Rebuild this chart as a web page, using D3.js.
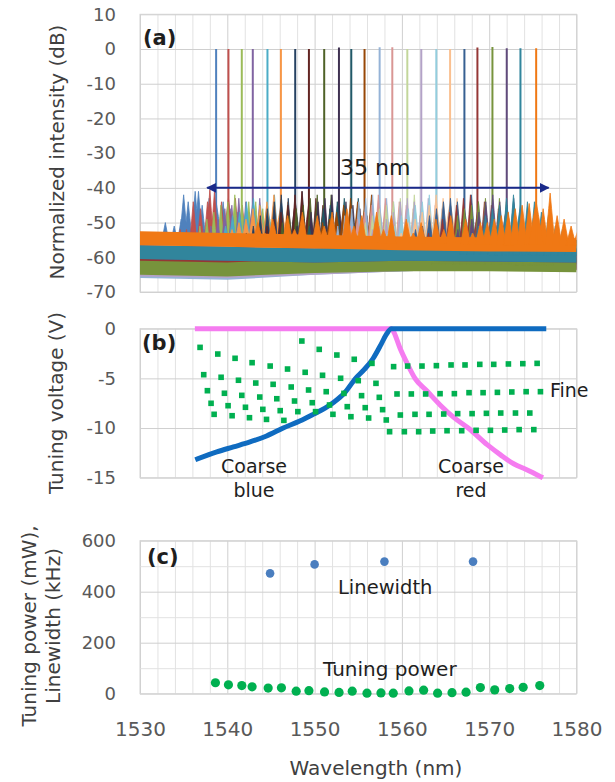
<!DOCTYPE html>
<html><head><meta charset="utf-8">
<script src="https://cdn.jsdelivr.net/npm/d3@7/dist/d3.min.js"></script>
<style>
body{margin:0;background:#fff}
svg text{font-family:"DejaVu Sans",Verdana,sans-serif}
</style>
</head><body>
<svg id="chart" width="615" height="782"></svg>
<script>
// ---------------- DATA ----------------
// (a) spectra: 24 lasing channels
const channelWl = [1538.72,1540.13,1541.66,1542.92,1544.60,1546.14,1547.78,1549.35,1551.10,1552.79,1554.20,1555.72,
                   1557.45,1558.90,1560.62,1562.22,1563.94,1565.52,1567.16,1568.65,1570.37,1572.01,1573.58,1575.38];
const peakDb = [0,0,0,0,0,0,0,0,0,0.4,0,0,0.5,0.5,0,0,0,0,0,0.4,0.6,0.2,0.2,0.2];
const pedestalDb = [-44,-43,-45,-44,-45,-45,-44,-44,-45,-45,-46,-46,-45,-46,-46,-46,-45,-44,-46,-47,-46,-45,-45,-44];
const seriesColors = ["#4F81BD","#C0504D","#9BBB59","#8064A2","#4BACC6","#F79646",
                      "#254061","#632523","#4F6228","#3F3151","#215968","#984807",
                      "#95B3D7","#D99694","#C3D69B","#B3A2C7","#93CDDD","#FAC090",
                      "#376092","#953735","#77933C","#604A7B","#31859C","#F07814"];
const floorWl = [1530,1540,1550,1560,1570,1580];
const floorDb = [
 [-57,-58,-59,-59.5,-59.5,-59.5],
 [-60,-60.5,-61,-61,-61,-61.5],
 [-63,-63,-62,-61.5,-61.5,-62],
 [-61,-61.5,-61,-60.5,-60.5,-61],
 [-58,-58.5,-59,-59,-59,-59.5],
 [-56,-56.5,-57,-57,-57,-57.5],
 [-62,-62,-61,-60.5,-60.5,-61],
 [-61,-61.5,-61,-61,-61,-61.5],
 [-64,-63.5,-62.5,-62,-61.5,-61.5],
 [-63,-63,-62,-61.5,-61.5,-61.5],
 [-59,-59.5,-59.5,-59.5,-59.5,-60],
 [-57.5,-58,-58,-58,-58,-58.5],
 [-64,-64.5,-63,-62,-61.5,-61.5],
 [-60,-60.5,-61,-61,-61,-61.5],
 [-62,-62.5,-62,-61.5,-61.5,-61.5],
 [-63.5,-64,-63,-62,-61.5,-61.5],
 [-58.5,-59,-59,-59,-59,-59.5],
 [-56.5,-57,-57.5,-57.5,-57.5,-58],
 [-59.5,-60,-60,-59.5,-59.5,-60],
 [-60.5,-61.5,-61.5,-61,-61,-61.5],
 [-63,-63.5,-62.5,-62,-62,-62.3],
 [-58.5,-59,-59.5,-59,-59.2,-59.5],
 [-58.5,-59,-59.5,-59,-59.2,-59.5],
 [-54.5,-55,-55.5,-56,-56.3,-56.5]
];
// side-mode comb of every channel: offsets from the lasing line (nm) and levels (dB)
const combOffsetNm = [-6.4,-5.6,-4.8,-4.0,-3.2,-2.4,-1.6,-0.8,0.8,1.6,2.4,3.2,4.0,4.8,5.6,6.4];
const combDb = [
 [-55,-53,-51,-49,-44,-41,-45,-43,-44,-46,-47,-49,-50,-52,-53,-54],
 [-54,-53,-52,-48,-46,-44,-41,-44,-43,-45,-47,-48,-51,-52,-54,-55],
 [-55,-53,-51,-49,-47,-45,-44,-42,-44,-44,-46,-49,-50,-52,-53,-55],
 [-54,-52,-51,-49,-46,-45,-43,-44,-43,-45,-47,-48,-50,-51,-53,-54],
 [-55,-53,-51,-48,-47,-44,-43,-45,-42,-44,-46,-48,-50,-52,-53,-55],
 [-54,-52,-50,-49,-46,-45,-44,-42,-44,-45,-47,-48,-50,-51,-53,-54],
 [-55,-53,-51,-48,-46,-44,-42,-43,-41,-44,-46,-48,-50,-52,-53,-55],
 [-54,-52,-51,-49,-47,-45,-42,-41,-43,-45,-46,-49,-50,-52,-54,-55],
 [-55,-53,-50,-48,-46,-45,-43,-42,-42,-44,-47,-48,-50,-51,-53,-54],
 [-54,-52,-51,-49,-47,-44,-43,-42,-44,-45,-46,-48,-51,-52,-53,-55],
 [-55,-53,-51,-48,-46,-45,-44,-43,-43,-44,-47,-49,-50,-52,-54,-55],
 [-54,-53,-50,-49,-47,-45,-43,-44,-42,-45,-46,-48,-50,-51,-53,-54],
 [-55,-52,-51,-48,-46,-44,-43,-42,-43,-44,-47,-49,-50,-52,-53,-55],
 [-54,-53,-51,-49,-47,-45,-42,-43,-44,-45,-46,-48,-51,-52,-54,-55],
 [-55,-53,-50,-48,-46,-45,-44,-43,-42,-44,-47,-49,-50,-51,-53,-54],
 [-54,-52,-51,-49,-47,-44,-43,-44,-43,-45,-46,-48,-50,-52,-53,-55],
 [-55,-53,-51,-48,-46,-45,-44,-42,-44,-44,-47,-48,-51,-52,-54,-55],
 [-54,-53,-50,-49,-47,-45,-42,-43,-43,-45,-46,-49,-50,-51,-53,-54],
 [-55,-52,-51,-48,-46,-44,-43,-44,-42,-44,-47,-48,-50,-52,-53,-55],
 [-54,-53,-51,-49,-47,-45,-43,-42,-44,-45,-46,-48,-51,-52,-54,-55],
 [-55,-53,-50,-48,-46,-45,-44,-43,-43,-44,-47,-49,-50,-51,-53,-54],
 [-54,-52,-51,-49,-47,-44,-42,-44,-43,-45,-46,-48,-50,-52,-53,-55],
 [-55,-53,-51,-48,-46,-45,-43,-42,-44,-44,-47,-48,-51,-52,-54,-55],
 [-51,-50,-49,-48,-47,-46,-45,-44.5,-46,-41.5,-48,-49,-51,-52,-53,-54]
];
// additional distinct side peaks [wavelength nm, dB]
const extraPeaks = [
 [[1532.9,-50],[1534.0,-53],[1535.0,-42],[1536.7,-41]],
 [[1534.6,-52],[1536.1,-44],[1538.0,-40.5]],
 [],[],[],[],[],[],[],[],[],[],[],[],[],[],[],[],[],[],[],[],[],
 [[1543.5,-50],[1544.3,-53],[1545.2,-49],[1546.9,-48],[1547.7,-52],[1548.6,-47],[1550.3,-48],[1551.1,-51],[1552.0,-47],
  [1553.7,-46],[1554.5,-51],[1555.4,-48],[1557.1,-47],[1557.9,-52],[1558.8,-48],[1560.5,-49],[1561.3,-53],[1562.2,-50],
  [1563.9,-49],[1564.8,-52],[1565.6,-48],[1567.3,-49],[1568.1,-53],[1569.0,-50]]
];
const arrowWl = [1537.7, 1576.8];
const arrowDb = -40;

// (b) tuning voltages
const coarseBlueWl = [1536.6,1538.8,1540.7,1542.6,1544.5,1546.4,1548.3,1549.9,1551.2,1552.2,1553.4,1554.7,1555.7,1556.7,1557.6,1558.2,1558.8,1576.25];
const coarseBlueV  = [-13.1,-12.4,-11.9,-11.4,-10.8,-10.0,-9.3,-8.6,-8.0,-7.4,-6.5,-5.0,-4.1,-3.0,-1.6,-0.6,0,0];
const coarseRedWl = [1536.57,1558.8,1559.05,1559.8,1560.6,1561.5,1562.9,1564.4,1565.9,1567.6,1569.8,1571.3,1572.8,1574.3,1575.9];
const coarseRedV  = [0,0,-0.3,-2.0,-3.5,-5.0,-6.3,-7.7,-8.9,-10.0,-11.7,-12.7,-13.6,-14.2,-14.9];
const fineWl = [
 1536.88,1537.30,1537.72,1538.14,1538.49,
 1538.91,1539.29,1539.67,1540.09,1540.55,
 1540.89,1541.28,1541.66,1542.08,1542.54,
 1542.84,1543.26,1543.72,1544.07,1544.49,
 1544.91,1545.25,1545.67,1546.06,1546.48,
 1546.90,1547.32,1547.70,1548.08,
 1548.54,1548.92,1549.31,1549.73,1550.11,
 1550.53,1550.91,1551.33,1551.71,1552.10,
 1552.55,1552.98,1553.36,1553.74,1554.16,
 1554.54,1555.00,1555.38,1555.80,1556.19,
 1556.57,1557.03,1557.41,1557.79,1558.21,
 1559.05,1560.66,1562.30,1563.95,1565.63,1567.23,1568.92,1570.52,1572.20,1573.85,1575.49,
 1559.44,1561.08,1562.72,1564.37,1566.01,1567.69,1569.30,1570.94,1572.59,1574.23,1575.87,
 1559.82,1561.50,1563.11,1564.79,1566.39,1568.04,1569.68,1571.32,1573.01,1574.65,
 1558.59,1560.28,1561.92,1563.53,1565.17,1566.85,1568.50,1570.14,1571.78,1573.43,1575.11
];
const fineV = [
 -1.88,-4.63,-6.24,-7.51,-8.62,
 -2.55,-4.89,-6.50,-7.75,-8.76,
 -2.98,-5.19,-6.71,-7.91,-8.96,
 -3.42,-5.47,-6.88,-8.12,-9.13,
 -3.76,-5.60,-7.05,-8.25,-9.23,
 -4.06,-5.87,-7.28,-8.35,
 -1.24,-4.39,-6.17,-7.45,-8.35,
 -2.08,-4.69,-6.34,-7.68,-8.62,
 -2.65,-4.99,-6.51,-7.85,-8.86,
 -3.08,-5.23,-6.74,-7.95,-8.99,
 -3.49,-5.50,-6.91,-8.15,-9.19,
 -3.82,-3.76,-3.76,-3.72,-3.65,-3.65,-3.59,-3.59,-3.55,-3.52,-3.49,
 -6.57,-6.57,-6.57,-6.54,-6.54,-6.44,-6.44,-6.41,-6.37,-6.34,-6.34,
 -8.69,-8.62,-8.62,-8.59,-8.55,-8.55,-8.52,-8.49,-8.49,-8.49,
 -10.37,-10.37,-10.37,-10.30,-10.27,-10.27,-10.23,-10.23,-10.20,-10.16,-10.16
];

// (c) tuning power & linewidth
const tuningPowerWl = [1538.64,1540.13,1541.66,1542.84,1544.68,1546.20,1547.89,1549.35,1551.14,1552.80,1554.31,1556.00,
                       1557.60,1559.01,1560.81,1562.49,1564.09,1565.74,1567.35,1568.99,1570.63,1572.35,1573.89,1575.79];
const tuningPowerMw = [43,35,32,27,22,23,10,12,7,5,10,2,3,2,11,14,2,4,6,24,15,20,25,32];
const linewidthWl = [1544.9,1550.0,1558.0,1568.15];
const linewidthKhz = [472,507,518,518];

const xTicks = [1530,1540,1550,1560,1570,1580];
const yTicksA = [10,0,-10,-20,-30,-40,-50,-60,-70];
const yTicksB = [0,-5,-10,-15];
const yTicksC = [0,200,400,600];

// ---------------- LAYOUT ----------------
const X0 = 140, X1 = 576.5;
const A = {top:14.3, bottom:292};
const B = {top:328.7, bottom:477.7};
const C = {top:540.7, bottom:693.7};
const TICK_COLOR = "#595959", TITLE_COLOR = "#404040", NOTE_COLOR = "#1e1e1e";

const svg = d3.select("#chart");
const defs = svg.append("defs");
const x = d3.scaleLinear().domain([1530,1580]).range([X0,X1]);
const yA = d3.scaleLinear().domain([-70,10]).range([A.bottom,A.top]);
const yB = d3.scaleLinear().domain([-15,0]).range([B.bottom,B.top]);
const yC = d3.scaleLinear().domain([0,600]).range([C.bottom,C.top]);

function drawGrid(P, y, hTicks, hMajor) {
  const g = svg.append("g");
  const vg = g.append("g").attr("transform", `translate(0,${P.bottom})`)
    .call(d3.axisBottom(x).tickValues(d3.range(1530,1581,2)).tickSize(-(P.bottom-P.top)).tickFormat(""));
  vg.select(".domain").remove();
  vg.selectAll("line").attr("stroke", d => d % 10 === 0 ? "#cfcfcf" : "#e2e2e2").attr("stroke-width",1);
  const hg = g.append("g").attr("transform", `translate(${X0},0)`)
    .call(d3.axisLeft(y).tickValues(hTicks).tickSize(-(X1-X0)).tickFormat(""));
  hg.select(".domain").remove();
  hg.selectAll("line").attr("stroke", d => hMajor(d) ? "#cfcfcf" : "#e2e2e2").attr("stroke-width",1);
  g.append("rect").attr("x",X0).attr("y",P.top).attr("width",X1-X0).attr("height",P.bottom-P.top)
    .attr("fill","none").attr("stroke","#d4d4d4").attr("stroke-width",1);
}
function drawYLabels(y, ticks) {
  const ax = svg.append("g").attr("transform", `translate(${X0},0)`)
    .call(d3.axisLeft(y).tickValues(ticks).tickSize(0).tickPadding(24).tickFormat(d => String(d)));
  ax.select(".domain").remove();
  ax.selectAll("text").attr("fill", TICK_COLOR).style("font-size","18px")
    .style("font-family",'"DejaVu Sans",Verdana,sans-serif');
}

drawGrid(A, yA, d3.range(-70,11,10), () => true);
drawGrid(B, yB, [-15,-10,-5,0], () => true);
drawGrid(C, yC, d3.range(0,601,100), d => d % 200 === 0);
drawYLabels(yA, yTicksA);
drawYLabels(yB, yTicksB);
drawYLabels(yC, yTicksC);

const xa = svg.append("g").attr("transform", `translate(0,${C.bottom})`)
  .call(d3.axisBottom(x).tickValues(xTicks).tickSize(0).tickPadding(28).tickFormat(d3.format("d")));
xa.select(".domain").remove();
xa.selectAll("text").attr("fill", TICK_COLOR).style("font-size","20px")
  .style("font-family",'"DejaVu Sans",Verdana,sans-serif');

// ---------------- (a) spectra ----------------
defs.append("clipPath").attr("id","clipA")
  .append("rect").attr("x",X0).attr("y",A.top).attr("width",X1-X0).attr("height",A.bottom-A.top);
const gA = svg.append("g").attr("clip-path","url(#clipA)");
const NOISE = 2.0, SPIKE = 0.55, PED = 0.85, SHOULDER = 0.3, SHOULDER_H = 0.7;
const lineXY = d3.line().x(d => x(d[0])).y(d => yA(d[1]));
// spike outline: broad base on the floor, narrow tip at the peak level
const spikeShape = (w, db, hw, fl) => {
  const fL = fl(w - hw), fR = fl(w + hw);
  return [[w - hw, fL], [w - hw * SHOULDER, fL + (db - fL) * SHOULDER_H], [w, db],
          [w + hw * SHOULDER, fR + (db - fR) * SHOULDER_H], [w + hw, fR]];
};
channelWl.forEach((wl, i) => {
  const col = seriesColors[i];
  const fl = d3.scaleLinear().domain(floorWl).range(floorDb[i]);
  const g = gA.append("g");
  const band = d3.area().x(d => x(d)).y0(d => yA(fl(d) - NOISE)).y1(d => yA(fl(d) + NOISE));
  g.append("path").datum(floorWl).attr("d", band).attr("fill", col);
  const peaks = combOffsetNm.map((o, k) => [wl + o, combDb[i][k]]).concat(extraPeaks[i]);
  const spikes = peaks.map(([w, db]) => spikeShape(w, db, SPIKE, fl));
  spikes.push(spikeShape(wl, pedestalDb[i], PED, fl));
  g.selectAll("path.sp").data(spikes).enter().append("path").attr("class","sp")
    .attr("d", d => lineXY(d) + "Z").attr("fill", col).attr("stroke", col).attr("stroke-width", 0.8)
    .attr("stroke-linejoin","round");
  g.append("line").attr("x1", x(wl)).attr("x2", x(wl)).attr("y1", yA(fl(wl))).attr("y2", yA(peakDb[i]))
    .attr("stroke", col).attr("stroke-width", 2);
});
defs.append("marker").attr("id","ah").attr("viewBox","0 0 10 10").attr("refX",9).attr("refY",5)
  .attr("markerWidth",5).attr("markerHeight",5).attr("orient","auto-start-reverse").attr("markerUnits","strokeWidth")
  .append("path").attr("d","M0,0L10,5L0,10Z").attr("fill","#1a2a8a");
svg.append("line").attr("x1",x(arrowWl[0])).attr("x2",x(arrowWl[1])).attr("y1",yA(arrowDb)).attr("y2",yA(arrowDb))
  .attr("stroke","#1a2a8a").attr("stroke-width",2).attr("marker-start","url(#ah)").attr("marker-end","url(#ah)");
svg.append("text").attr("x",340).attr("y",175).attr("fill",NOTE_COLOR).style("font-size","22px").text("35 nm");

// ---------------- (b) tuning voltage ----------------
const lineB = d3.line().x(d => x(d[0])).y(d => yB(d[1])).curve(d3.curveMonotoneX);
svg.append("path").datum(d3.zip(coarseRedWl, coarseRedV)).attr("d", lineB)
  .attr("fill","none").attr("stroke","#F57CF0").attr("stroke-width",5).attr("stroke-linecap","square");
svg.append("path").datum(d3.zip(coarseBlueWl, coarseBlueV)).attr("d", lineB)
  .attr("fill","none").attr("stroke","#0F6BC0").attr("stroke-width",5).attr("stroke-linecap","square");
svg.append("g").selectAll("rect").data(d3.zip(fineWl, fineV)).enter().append("rect")
  .attr("x", d => x(d[0]) - 2.8).attr("y", d => yB(d[1]) - 2.8).attr("width",5.6).attr("height",5.6)
  .attr("fill","#00B050");

// ---------------- (c) tuning power & linewidth ----------------
svg.append("g").selectAll("circle").data(d3.zip(linewidthWl, linewidthKhz)).enter().append("circle")
  .attr("cx", d => x(d[0])).attr("cy", d => yC(d[1])).attr("r",4.3).attr("fill","#4A7EBF");
svg.append("g").selectAll("circle").data(d3.zip(tuningPowerWl, tuningPowerMw)).enter().append("circle")
  .attr("cx", d => x(d[0])).attr("cy", d => yC(d[1])).attr("r",4.6).attr("fill","#00B050");

// ---------------- texts ----------------
const note = (tx, ty, s, size, anchor="start", weight="normal") =>
  svg.append("text").attr("x",tx).attr("y",ty).attr("text-anchor",anchor).attr("fill",NOTE_COLOR)
    .style("font-size",size+"px").style("font-weight",weight).text(s);
note(143, 45, "(a)", 21, "start", "bold");
note(142, 350, "(b)", 21, "start", "bold");
note(147, 564, "(c)", 21, "start", "bold");
note(550, 397, "Fine", 19);
note(254, 473, "Coarse", 19, "middle");
note(254, 497, "blue", 19, "middle");
note(471, 472.5, "Coarse", 19, "middle");
note(471, 497, "red", 19, "middle");
note(338, 593.5, "Linewidth", 19.5);
note(323, 676, "Tuning power", 20);

const title = (bx, cy, s) => svg.append("text")
  .attr("transform", `translate(${bx},${cy}) rotate(-90)`).attr("text-anchor","middle")
  .attr("fill", TITLE_COLOR).style("font-size","20px").text(s);
title(64, 152, "Normalized intensity (dB)");
title(63, 403, "Tuning voltage (V)");
title(36, 626, "Tuning power (mW),");
title(60, 626, "Linewidth (kHz)");
svg.append("text").attr("x",376).attr("y",775).attr("text-anchor","middle").attr("fill",TITLE_COLOR)
  .style("font-size","20px").text("Wavelength (nm)");
</script>
</body></html>
